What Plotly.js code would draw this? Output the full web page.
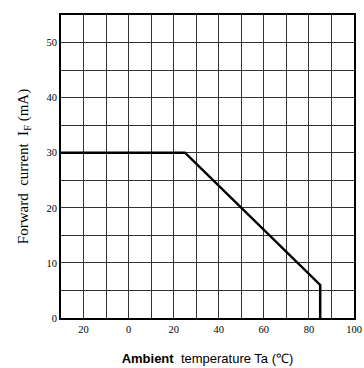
<!DOCTYPE html>
<html><head><meta charset="utf-8">
<script src="https://cdn.plot.ly/plotly-3.0.1.min.js"></script>
<style>html,body{margin:0;padding:0;background:#fff}</style>
</head><body><div id="chart" style="width:364px;height:368px"></div>
<script>
const temperature = [-30, 25, 85, 85];
const forwardCurrent = [30, 30, 6, 0];
const xTickVals = [-20, 0, 20, 40, 60, 80, 100];
const xTickText = ["20", "0", "20", "40", "60", "80", "100"];
const yTickVals = [0, 10, 20, 30, 40, 50];
const yTickText = ["0", "10", "20", "30", "40", "50"];

Plotly.newPlot('chart', [{
  x: temperature, y: forwardCurrent, type: 'scatter', mode: 'lines',
  line: {color: '#000', width: 2.5}, hoverinfo: 'skip', showlegend: false
}], {
  width: 364, height: 368,
  margin: {l: 61, r: 10, t: 15, b: 50},
  paper_bgcolor: '#fff', plot_bgcolor: '#fff',
  font: {family: 'Liberation Serif', color: '#000', size: 10},
  xaxis: {
    range: [-30, 100], tickmode: 'array', tickvals: xTickVals, ticktext: xTickText,
    showgrid: true, gridcolor: '#333', gridwidth: 1,
    minor: {dtick: 10, tick0: -30, showgrid: true, gridcolor: '#333', gridwidth: 1, ticks: ''},
    showline: true, linecolor: '#000', linewidth: 2, mirror: true,
    zeroline: false, ticks: '',
    tickfont: {family: 'Liberation Serif', size: 10.5, color: '#000'},
    title: {text: '<b>Ambient</b>  <span style="font-weight:normal">temperature Ta (℃)</span>',
      font: {family: 'Liberation Sans', size: 13, color: '#000'}, standoff: 20}
  },
  yaxis: {
    range: [0, 55], tickmode: 'array', tickvals: yTickVals, ticktext: yTickText,
    showgrid: true, gridcolor: '#333', gridwidth: 1,
    minor: {dtick: 5, tick0: 0, showgrid: true, gridcolor: '#333', gridwidth: 1, ticks: ''},
    showline: true, linecolor: '#000', linewidth: 2, mirror: true,
    zeroline: false, ticks: '',
    tickfont: {family: 'Liberation Serif', size: 10.5, color: '#000'},
    title: {text: 'Forward  current  I<sub>F</sub> (mA)',
      font: {family: 'Liberation Serif', size: 15, color: '#000'}, standoff: 14}
  }
}, {displayModeBar: false, staticPlot: true});
</script></body></html>
